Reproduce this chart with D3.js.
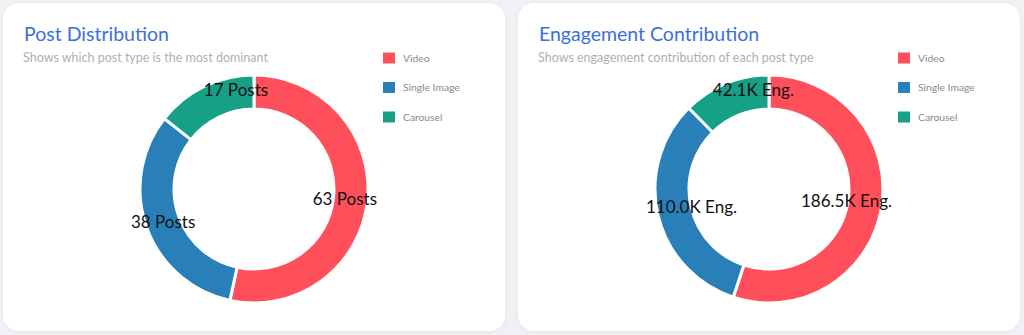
<!DOCTYPE html>
<html>
<head>
<meta charset="utf-8">
<script src="https://cdn.jsdelivr.net/npm/d3@7"></script>
<style>
  html, body { margin: 0; padding: 0; background: #f0f0f5; }
  svg { display: block; }
  text { font-family: "Lato", "Noto Sans", sans-serif; }
</style>
</head>
<body>
<svg id="chart" width="1024" height="335"></svg>
<script>
// Post types shared by both donuts
const categories = ["Video", "Single Image", "Carousel"];
const colors = ["#ff4f5a", "#2980b9", "#16a085"];

// Number of posts per type
const postCounts = [63, 38, 17];
const postLabels = ["63 Posts", "38 Posts", "17 Posts"];

// Engagement (in thousands) per type
const engagementK = [186.5, 110.0, 42.1];
const engagementLabels = ["186.5K Eng.", "110.0K Eng.", "42.1K Eng."];

const panels = [
  { title: "Post Distribution", subtitle: "Shows which post type is the most dominant",
    values: postCounts, labels: postLabels, x: 3 },
  { title: "Engagement Contribution", subtitle: "Shows engagement contribution of each post type",
    values: engagementK, labels: engagementLabels, x: 518 }
];

const svg = d3.select("#chart");
const cardW = 502, cardH = 328, cardY = 3;
const outerR = 114, innerR = 80;

const color = d3.scaleOrdinal().domain(categories).range(colors);

const defs = svg.append("defs");
const shadow = defs.append("filter").attr("id", "cardShadow")
  .attr("x", "-5%").attr("y", "-5%").attr("width", "110%").attr("height", "110%");
shadow.append("feDropShadow").attr("dx", 0).attr("dy", 1).attr("stdDeviation", 2)
  .attr("flood-color", "#000").attr("flood-opacity", 0.05);

const pie = d3.pie().sort(null).value(d => d.value);
const arc = d3.arc().innerRadius(innerR).outerRadius(outerR);

panels.forEach(p => {
  const card = svg.append("g").attr("transform", `translate(${p.x},${cardY})`);

  card.append("rect")
    .attr("width", cardW).attr("height", cardH)
    .attr("rx", 16).attr("ry", 16)
    .attr("fill", "#fff")
    .attr("filter", "url(#cardShadow)");

  card.append("text")
    .attr("x", 21).attr("y", 38)
    .attr("font-size", 19.5)
    .attr("fill", "#3d6fd9")
    .text(p.title);

  card.append("text")
    .attr("x", 20).attr("y", 59)
    .attr("font-size", 12.5)
    .attr("fill", "#b0b0b0")
    .text(p.subtitle);

  // Legend
  const legend = card.append("g").attr("transform", "translate(380,55)");
  categories.forEach((c, i) => {
    const row = legend.append("g").attr("transform", `translate(0,${i * 29.5})`);
    row.append("rect")
      .attr("x", 0).attr("y", -5.5)
      .attr("width", 12).attr("height", 11)
      .attr("fill", color(c));
    row.append("text")
      .attr("x", 20).attr("y", 0)
      .attr("dy", "0.35em")
      .attr("font-size", 10.3)
      .attr("fill", "#8a8a8a")
      .text(c);
  });

  // Donut
  const data = categories.map((c, i) => ({ name: c, value: p.values[i], label: p.labels[i] }));
  const arcs = pie(data);
  const g = card.append("g").attr("transform", `translate(${251},${186})`);

  g.selectAll("path.slice")
    .data(arcs)
    .join("path")
    .attr("class", "slice")
    .attr("d", arc)
    .attr("fill", d => color(d.data.name))
    .attr("stroke", "#fff")
    .attr("stroke-width", 3)
    .attr("stroke-linejoin", "round");

  // Slice labels: large slices sit along the mid angle with the text's far edge
  // just past the ring; small slices are pulled toward their closing edge.
  const labels = g.selectAll("text.val")
    .data(arcs)
    .join("text")
    .attr("class", "val")
    .attr("text-anchor", "middle")
    .attr("dy", "0.35em")
    .attr("font-size", 17)
    .attr("fill", "#111")
    .text(d => d.data.label);

  labels.each(function(d) {
    const w = this.getComputedTextLength();
    const share = (d.endAngle - d.startAngle) / (2 * Math.PI);
    let a, r;
    if (share < 0.2) {
      a = (d.startAngle + d.endAngle) / 2 * 0.4 + d.endAngle * 0.6;
      r = outerR * 0.88;
    } else {
      a = (d.startAngle + d.endAngle) / 2;
      r = (outerR + 9 - w / 2) / Math.abs(Math.sin(a));
    }
    d3.select(this)
      .attr("x", r * Math.sin(a))
      .attr("y", -r * Math.cos(a));
  });
});
</script>
</body>
</html>
